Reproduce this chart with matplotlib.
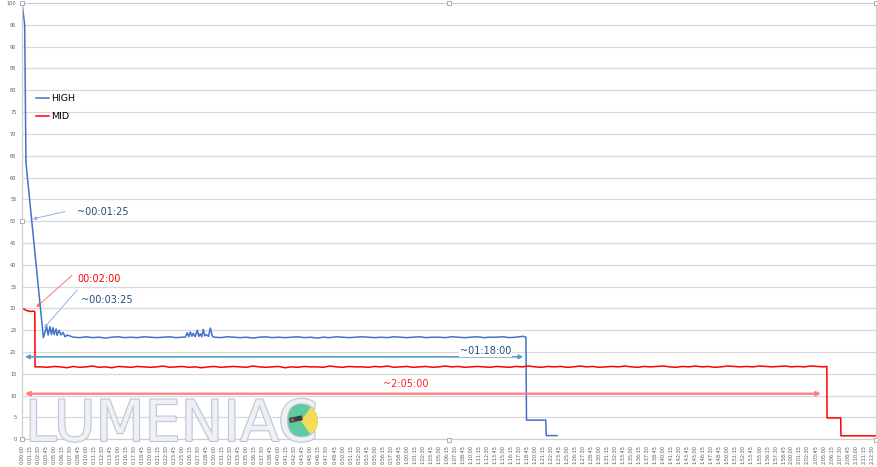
import matplotlib
matplotlib.use('Agg')
import matplotlib.pyplot as plt
from matplotlib.patches import Circle, Wedge, Rectangle
import matplotlib.patheffects as pe
import numpy as np

# ---- data (seconds, percent of initial output) ----
high_start_t = [0, 25, 37, 200, 231, 244, 262, 275, 290, 300, 319, 328, 347, 365, 384, 403, 422]
high_start_v = [100, 95, 63.4, 23.3, 25.8, 23.9, 25.8, 24.0, 25.6, 24.0, 25.3, 23.8, 25.0, 23.9, 24.5, 23.5, 23.9]

# readings every 60 s from 0:08:00
high_flat1_v = [23.4, 23.3, 23.5, 23.3, 23.4, 23.2, 23.4, 23.5, 23.3, 23.4,
                23.3, 23.5, 23.4, 23.3, 23.4, 23.5, 23.3, 23.4]

high_bump_t = [1528, 1546, 1560, 1575, 1590, 1603, 1620, 1640, 1655, 1668, 1682, 1696, 1710, 1724, 1745, 1762, 1781]
high_bump_v = [23.4, 24.4, 23.5, 24.6, 23.6, 24.3, 23.5, 25.0, 23.6, 24.2, 23.5, 25.2, 23.7, 24.0, 23.6, 25.5, 23.6]

# readings every 60 s from 0:30:00
high_flat2_v = [23.4, 23.3, 23.5, 23.4, 23.3, 23.4, 23.2, 23.4, 23.5, 23.3,
                23.4, 23.3, 23.4, 23.5, 23.3, 23.4, 23.2, 23.4, 23.3, 23.5,
                23.4, 23.3, 23.4, 23.5, 23.4, 23.3, 23.4, 23.3, 23.5, 23.4,
                23.3, 23.4, 23.5, 23.3, 23.4, 23.4, 23.3, 23.5, 23.4, 23.3,
                23.4, 23.5, 23.3, 23.4, 23.4, 23.5, 23.3, 23.4]

high_end_t = [4650, 4690, 4715, 4720, 4900, 4905, 5005]
high_end_v = [23.5, 23.6, 23.4, 4.4, 4.4, 0.85, 0.85]

mid_start_t = [0, 20, 45, 60, 90, 110, 120, 122]
mid_start_v = [30.0, 29.8, 29.5, 29.4, 29.3, 29.4, 29.2, 16.6]

# readings every 60 s from 0:03:00
mid_flat_v = [16.6, 16.5, 16.7, 16.6, 16.4, 16.7, 16.5, 16.6, 16.8, 16.5,
              16.6, 16.4, 16.7, 16.6, 16.5, 16.7, 16.6, 16.5, 16.6, 16.8,
              16.5, 16.6, 16.7, 16.5, 16.6, 16.4, 16.6, 16.7, 16.5, 16.6,
              16.7, 16.6, 16.5, 16.8, 16.6, 16.5, 16.6, 16.7, 16.4, 16.6,
              16.5, 16.7, 16.6, 16.6, 16.5, 16.8, 16.6, 16.5, 16.7, 16.6,
              16.6, 16.5, 16.7, 16.6, 16.8, 16.5, 16.6, 16.7, 16.5, 16.6,
              16.7, 16.5, 16.6, 16.8, 16.6, 16.7, 16.5, 16.6, 16.7, 16.6,
              16.5, 16.7, 16.6, 16.5, 16.7, 16.6, 16.8, 16.6, 16.5, 16.7,
              16.6, 16.7, 16.5, 16.6, 16.8, 16.6, 16.7, 16.5, 16.6, 16.7,
              16.6, 16.8, 16.6, 16.5, 16.7, 16.6, 16.7, 16.8, 16.6, 16.5,
              16.7, 16.6, 16.8, 16.6, 16.7, 16.5, 16.6, 16.8, 16.7, 16.6,
              16.7, 16.6, 16.8, 16.7, 16.6, 16.7, 16.8, 16.6, 16.7, 16.6,
              16.8, 16.7, 16.6]

mid_end_t = [7530, 7532, 7660, 7662, 7990]
mid_end_v = [16.7, 4.9, 4.9, 0.8, 0.8]

high_t = (high_start_t + list(480 + 60 * np.arange(len(high_flat1_v))) + high_bump_t
          + list(1800 + 60 * np.arange(len(high_flat2_v))) + high_end_t)
high_v = high_start_v + high_flat1_v + high_bump_v + high_flat2_v + high_end_v
mid_t = mid_start_t + list(180 + 60 * np.arange(len(mid_flat_v))) + mid_end_t
mid_v = mid_start_v + mid_flat_v + mid_end_v

# x tick labels every 1:15
tick_secs = np.arange(0, 7951, 75)
tick_labels = ['%d:%02d:%02d' % (s // 3600, (s % 3600) // 60, s % 60) for s in tick_secs]

BLUE = '#4472c4'
RED = '#ff0000'

fig = plt.figure(figsize=(8.77, 4.67), dpi=100)
fig.patch.set_facecolor('white')
ax = fig.add_axes([22 / 877, 27.7 / 467, 854 / 877, 436.3 / 467])
ax.set_xlim(0, 7990)
ax.set_ylim(0, 100)

ax.set_yticks(np.arange(0, 101, 5))
ax.set_xticks(tick_secs)
ax.set_xticklabels(tick_labels, rotation=90, fontsize=3.5, color='#595959')
ax.tick_params(axis='y', labelsize=3.6, labelcolor='#595959', length=0, pad=4)
ax.tick_params(axis='x', length=0, pad=4)
ax.grid(axis='y', color='#d9d9d9', lw=0.9)
ax.set_axisbelow(True)
for side in ['left', 'bottom', 'right', 'top']:
    ax.spines[side].set_color('#d0d0d0')
    ax.spines[side].set_linewidth(0.9)

ax.plot(high_t, high_v, color=BLUE, lw=1.1, label='HIGH')
ax.plot(mid_t, mid_v, color=RED, lw=1.1, label='MID')

ax.legend(loc='upper left', bbox_to_anchor=(0.012, 0.80), frameon=False, fontsize=6.8,
          handlelength=1.4, handletextpad=0.15, labelspacing=1.0, borderaxespad=0)

# ---- annotations ----
ax.text(515, 52.0, '~00:01:25', fontsize=7, color='#1f4e79', ha='left', va='center')
ax.annotate('', xy=(100, 50.5), xytext=(403, 52.2),
            arrowprops=dict(arrowstyle='-|>', color='#8fb4e3', lw=0.7, mutation_scale=5,
                            shrinkA=0, shrinkB=0))

ax.text(515, 36.7, '00:02:00', fontsize=7, color=RED, ha='left', va='center')
ax.annotate('', xy=(135, 30.3), xytext=(469, 37.6),
            arrowprops=dict(arrowstyle='-|>', color='#ff6060', lw=0.6, mutation_scale=5,
                            shrinkA=0, shrinkB=0))

ax.text(553, 31.9, '~00:03:25', fontsize=7, color='#1f4e79', ha='left', va='center')
ax.annotate('', xy=(206, 25.5), xytext=(515, 34.2),
            arrowprops=dict(arrowstyle='-|>', color='#8fb4e3', lw=0.7, mutation_scale=5,
                            shrinkA=0, shrinkB=0))

# run-time spans
ax.annotate('', xy=(4690, 18.9), xytext=(28, 18.9),
            arrowprops=dict(arrowstyle='<|-|>', color='#5b9bd5', lw=1.2, mutation_scale=6,
                            shrinkA=0, shrinkB=0))
ax.text(4340, 20.3, '~01:18:00', fontsize=7, color='#1f4e79', ha='center', va='center',
        bbox=dict(facecolor='white', edgecolor='none', pad=0.6))

ax.annotate('', xy=(7475, 10.45), xytext=(28, 10.45),
            arrowprops=dict(arrowstyle='<|-|>', color='#ff7c80', lw=1.6, mutation_scale=6,
                            shrinkA=0, shrinkB=0))
ax.text(3590, 12.7, '~2:05:00', fontsize=7, color='#ff2020', ha='center', va='center')

# ---- watermark + logo, in pixel coordinates ----
ov = fig.add_axes([0, 0, 1, 1])
ov.set_xlim(0, 877)
ov.set_ylim(467, 0)
ov.axis('off')
ov.patch.set_alpha(0)

ov.text(25, 441, 'LUMENIAC', fontsize=41, color='#eef1f5', ha='left', va='baseline',
        fontweight='normal', alpha=0.9,
        path_effects=[pe.withStroke(linewidth=1.4, foreground='#b3bdcc')])

ov.add_patch(Circle((301, 421), 17, facecolor='#5fc9a0', edgecolor='none'))
ov.add_patch(Wedge((301, 421), 17, -55, 55, facecolor='#f2dc58', edgecolor='none'))
ov.add_patch(Rectangle((289, 418), 13, 5, angle=-12, facecolor='#3b3f45', edgecolor='none'))
ov.add_patch(Rectangle((291, 419), 3, 2.5, angle=-12, facecolor='#e05050', edgecolor='none'))

# selection handles of the chart frame
hx = [22, 449, 876, 22, 22, 449, 876]
hy = [3, 3, 3, 221, 439, 440, 440]
ov.plot(hx, hy, 's', ms=3, mfc='white', mec='#a0a0a0', mew=0.6)

fig.savefig('out.png', dpi=100, facecolor='white')
plt.close(fig)
